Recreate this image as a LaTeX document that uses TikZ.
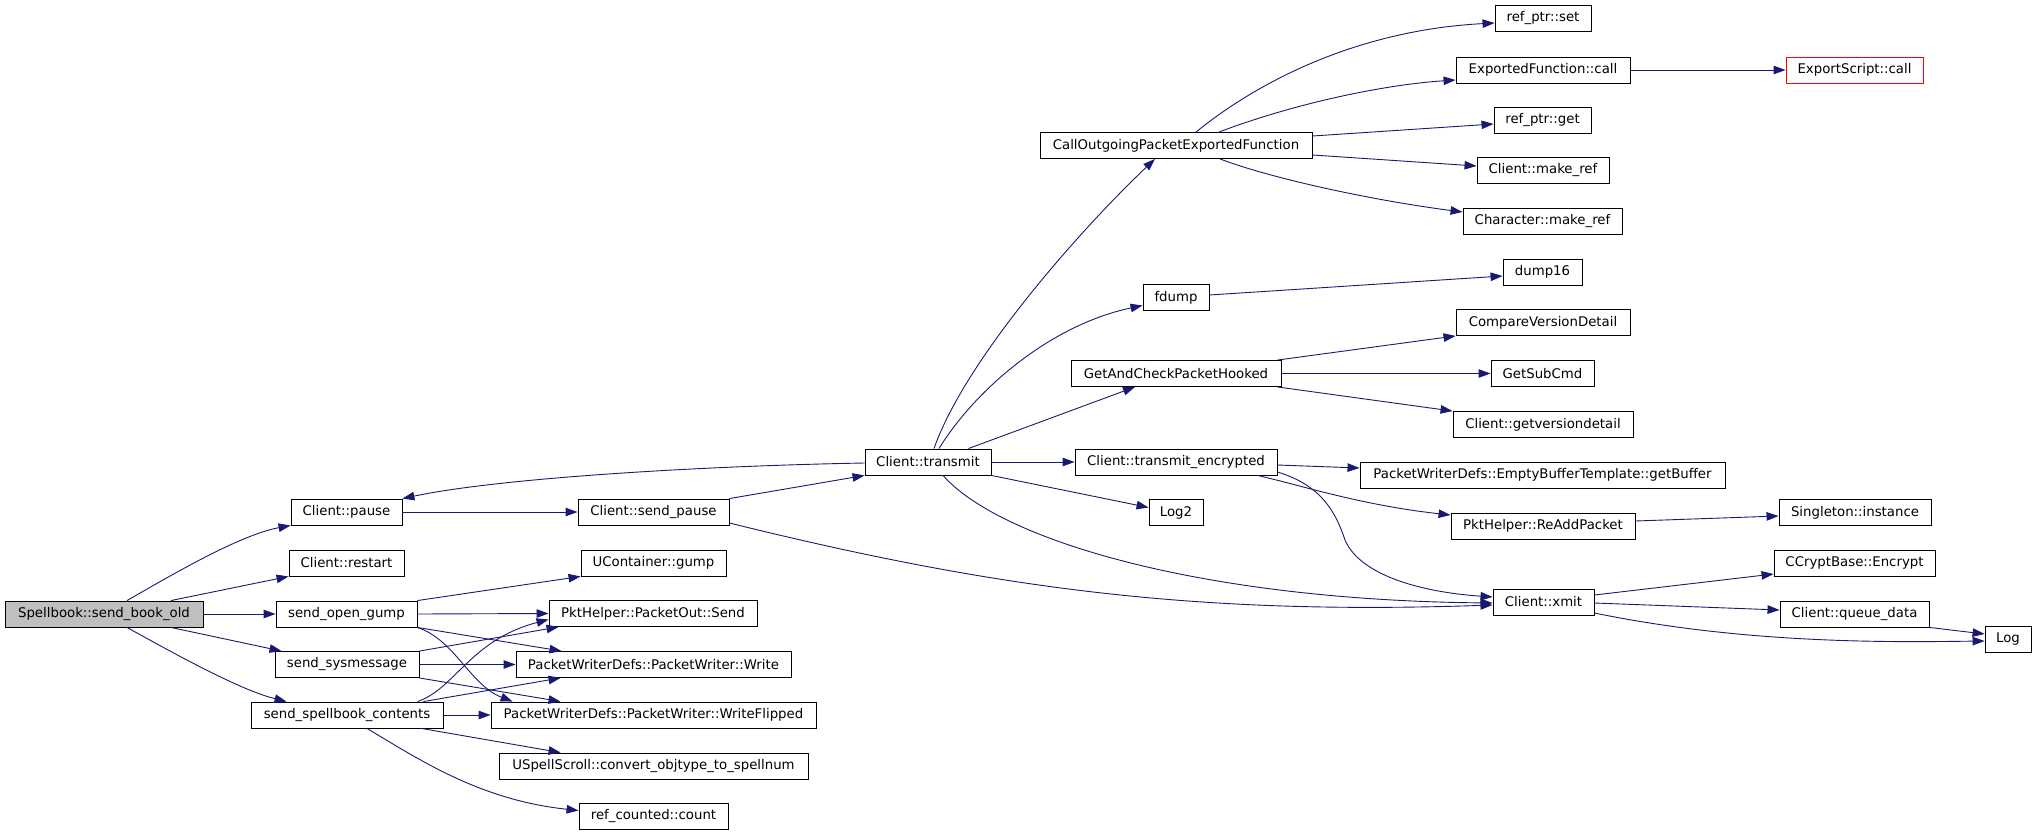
\documentclass[tikz,border=0pt]{standalone}
\usepackage{fontspec}
\setmainfont{DejaVu Sans}
\usetikzlibrary{arrows.meta, calc}
\definecolor{callblue}{HTML}{191970}
\definecolor{rootgray}{HTML}{BFBFBF}

\begin{document}
\begin{tikzpicture}[
  x=1pt, y=-1pt,
  >={Triangle[length=12pt, width=8.5pt]},
  fn/.style={draw, line width=0.9pt, fill=white, inner sep=0pt, minimum height=26,
    font=\fontsize{13.3}{16}\selectfont},
  root/.style={fn, fill=rootgray},
  ext/.style={fn, draw=red},
  call/.style={->, callblue, line width=0.9pt}
]
\useasboundingbox (0,0) rectangle (2037,835);

% Column 0 and 1: caller and its direct callees
\node[root, minimum width=198] (book) at (104,614) {Spellbook::send\_book\_old};
\node[fn, minimum width=111] (pause) at (346.5,512) {Client::pause};
\node[fn, minimum width=115] (restart) at (346.5,563) {Client::restart};
\node[fn, minimum width=141] (opengump) at (346.5,614) {send\_open\_gump};
\node[fn, minimum width=144] (sysmsg) at (347,664.5) {send\_sysmessage};
\node[fn, minimum width=192] (sbcontents) at (347,715) {send\_spellbook\_contents};

% Column 2
\node[fn, minimum width=151] (sendpause) at (653.5,512) {Client::send\_pause};
\node[fn, minimum width=145] (gump) at (653.5,563) {UContainer::gump};
\node[fn, minimum width=208] (pktsend) at (653,613.5) {PktHelper::PacketOut::Send};
\node[fn, minimum width=275] (write) at (653.5,664.5) {PacketWriterDefs::PacketWriter::Write};
\node[fn, minimum width=325] (writeflip) at (653.5,715) {PacketWriterDefs::PacketWriter::WriteFlipped};
\node[fn, minimum width=309] (spellnum) at (653.5,766) {USpellScroll::convert\_objtype\_to\_spellnum};
\node[fn, minimum width=149] (refcount) at (653.5,816.5) {ref\_counted::count};

% Column 3 and 4
\node[fn, minimum width=126] (transmit) at (928,462) {Client::transmit};
\node[fn, minimum width=272] (callout) at (1176,145.5) {CallOutgoingPacketExportedFunction};
\node[fn, minimum width=66] (fdump) at (1176,297.5) {fdump};
\node[fn, minimum width=210] (gacph) at (1176,373.5) {GetAndCheckPacketHooked};
\node[fn, minimum width=202] (transenc) at (1176,462) {Client::transmit\_encrypted};
\node[fn, minimum width=54] (log2) at (1176,512.5) {Log2};

% Column 5
\node[fn, minimum width=96] (refset) at (1543,18.5) {ref\_ptr::set};
\node[fn, minimum width=174] (expfn) at (1543,70) {ExportedFunction::call};
\node[fn, minimum width=97] (refget) at (1542.5,120) {ref\_ptr::get};
\node[fn, minimum width=132] (cmakeref) at (1543,170.5) {Client::make\_ref};
\node[fn, minimum width=159] (chmakeref) at (1542.5,221.5) {Character::make\_ref};
\node[fn, minimum width=79] (dump16) at (1542.5,272) {dump16};
\node[fn, minimum width=174] (cmpver) at (1543,322.5) {CompareVersionDetail};
\node[fn, minimum width=103] (getsub) at (1542.5,373.5) {GetSubCmd};
\node[fn, minimum width=180] (getver) at (1543,424.5) {Client::getversiondetail};
\node[fn, minimum width=365] (getbuf) at (1542.5,475) {PacketWriterDefs::EmptyBufferTemplate::getBuffer};
\node[fn, minimum width=184] (readd) at (1543,526) {PktHelper::ReAddPacket};
\node[fn, minimum width=101] (xmit) at (1543.5,602) {Client::xmit};

% Column 6 and 7
\node[ext, minimum width=137] (expscript) at (1854.5,70) {ExportScript::call};
\node[fn, minimum width=152] (singleton) at (1855,512.5) {Singleton::instance};
\node[fn, minimum width=161] (encrypt) at (1854.5,563) {CCryptBase::Encrypt};
\node[fn, minimum width=149] (queue) at (1854.5,614) {Client::queue\_data};
\node[fn, minimum width=46] (log) at (2008,639) {Log};

% Calls out of send_book_old
\draw[call] ($(book.north)+(23,0)$) .. controls (175,573) and (240,535) .. (pause.south west);
\draw[call] ($(book.north)+(67,0)$) -- (restart.south west);
\draw[call] (book.east) -- (opengump.west);
\draw[call] ($(book.south)+(67,0)$) -- ($(sysmsg.north west)+(7,0)$);
\draw[call] ($(book.south)+(23,0)$) .. controls (175,654) and (240,690) .. ($(sbcontents.north west)+(36,0)$);

% Pause and transmit
\draw[call] (pause.east) -- (sendpause.west);
\draw[call] ($(transmit.west)+(0,1)$) .. controls (700,466) and (500,478) .. (pause.north east);
\draw[call] (sendpause.north east) -- (transmit.south west);
\draw[call] ($(sendpause.east)+(0,11)$) .. controls (1000,590) and (1200,615) .. ($(xmit.west)+(0,3)$);

% Packet writers
\draw[call] (opengump.north east) -- (gump.south west);
\draw[call] (opengump.east) -- (pktsend.west);
\draw[call] (opengump.south east) -- ($(write.north west)+(46,0)$);
\draw[call] (opengump.south east) .. controls (455,640) and (470,685) .. ($(writeflip.north west)+(22,0)$);
\draw[call] (sysmsg.north east) -- ($(pktsend.south west)+(10,0)$);
\draw[call] (sysmsg.east) -- (write.west);
\draw[call] (sysmsg.south east) -- ($(writeflip.north west)+(70,0)$);
\draw[call] ($(sbcontents.north east)+(-26,0)$) .. controls (455,689) and (470,640) .. ($(pktsend.west)+(0,6)$);
\draw[call] ($(sbcontents.north east)+(-20,0)$) -- ($(write.south west)+(45,0)$);
\draw[call] (sbcontents.east) -- (writeflip.west);
\draw[call] ($(sbcontents.south east)+(-22,0)$) -- ($(spellnum.north west)+(62,0)$);
\draw[call] ($(sbcontents.south)+(20,0)$) .. controls (420,760) and (480,800) .. ($(refcount.west)+(0,-6)$);

% Out of Client::transmit
\draw[call] ($(transmit.north)+(6,0)$) .. controls (965,360) and (1080,230) .. ($(callout.south)+(-21,0)$);
\draw[call] ($(transmit.north)+(11,0)$) .. controls (975,390) and (1050,325) .. ($(fdump.west)+(0,8)$);
\draw[call] ($(transmit.north east)+(-23,0)$) -- ($(gacph.south)+(-41,0)$);
\draw[call] (transmit.east) -- (transenc.west);
\draw[call] (transmit.south east) -- ($(log2.west)+(0,-5)$);
\draw[call] ($(transmit.south)+(15,0)$) .. controls (1000,540) and (1200,600) .. ($(xmit.west)+(0,1)$);

% Out of CallOutgoingPacketExportedFunction
\draw[call] ($(callout.north)+(20,0)$) .. controls (1260,80) and (1360,30) .. ($(refset.west)+(0,4.5)$);
\draw[call] ($(callout.north)+(43,0)$) .. controls (1290,105) and (1380,85) .. ($(expfn.west)+(0,10)$);
\draw[call] ($(callout.east)+(0,-9.5)$) -- ($(refget.west)+(0,4)$);
\draw[call] ($(callout.east)+(0,9.5)$) -- ($(cmakeref.west)+(0,-4.5)$);
\draw[call] ($(callout.south)+(44,0)$) .. controls (1270,178) and (1370,200) .. ($(chmakeref.west)+(0,-9.5)$);
\draw[call] (expfn.east) -- (expscript.west);

% fdump and packet hooks
\draw[call] ($(fdump.east)+(0,-2.5)$) -- ($(dump16.west)+(0,4)$);
\draw[call] ($(gacph.north east)+(-4,0)$) -- (cmpver.south west);
\draw[call] (gacph.east) -- (getsub.west);
\draw[call] ($(gacph.south east)+(-4,0)$) -- (getver.north west);

% Encrypted transmit
\draw[call] ($(transenc.east)+(0,3)$) -- ($(getbuf.west)+(0,-7)$);
\draw[call] ($(transenc.south east)+(-20,0)$) .. controls (1300,485) and (1360,505) .. ($(readd.west)+(0,-11)$);
\draw[call] ($(transenc.east)+(0,10)$) .. controls (1320,485) and (1335,510) .. (1345,540)
  .. controls (1360,575) and (1420,592) .. ($(xmit.west)+(0,-5)$);
\draw[call] ($(readd.east)+(0,-5)$) -- ($(singleton.west)+(0,3.5)$);

% Out of Client::xmit
\draw[call] ($(xmit.east)+(0,-7)$) -- ($(encrypt.west)+(0,11)$);
\draw[call] ($(xmit.east)+(0,1)$) -- ($(queue.west)+(0,-4)$);
\draw[call] ($(xmit.east)+(0,11)$) .. controls (1750,645) and (1900,642) .. ($(log.west)+(0,2)$);
\draw[call] (queue.south east) -- ($(log.west)+(0,-5)$);

\end{tikzpicture}
\end{document}
